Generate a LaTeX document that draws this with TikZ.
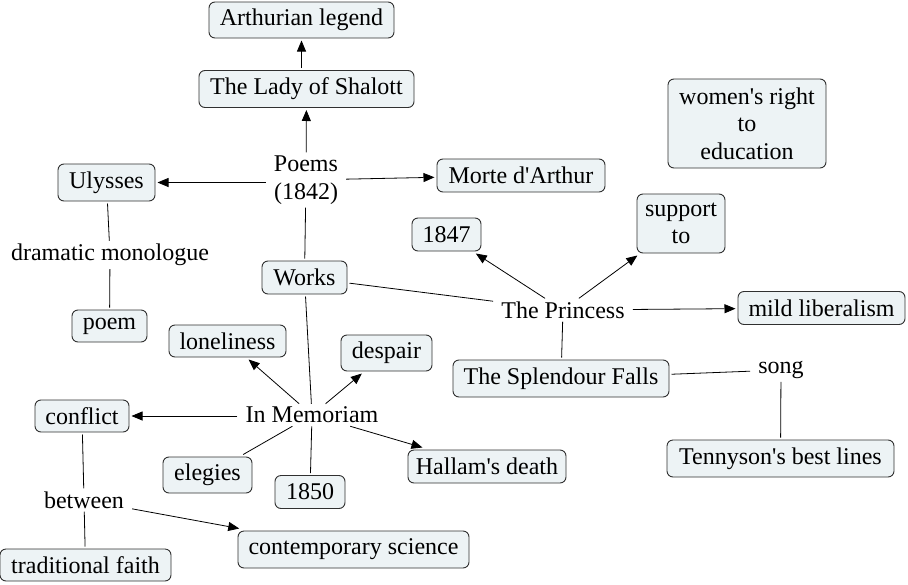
\documentclass[tikz,border=0pt]{standalone}
\usepackage{fontspec}
\setmainfont{Liberation Serif}
\usetikzlibrary{arrows.meta}
\definecolor{boxfill}{HTML}{EDF3F5}
\definecolor{boxline}{HTML}{303030}
\newcommand{\aps}{\textquotesingle}
\tikzset{
  cbox/.style={draw=boxline, line width=0.9pt, fill=boxfill, rounded corners=6pt,
    inner sep=0pt, outer sep=2.5pt, align=center, font=\fontsize{24}{27.5}\selectfont},
  lbl/.style={inner xsep=8pt, inner ysep=3pt, align=center, font=\fontsize{24}{28}\selectfont},
  link/.style={draw=black, line width=0.8pt},
  arr/.style={link, -{Triangle[length=11pt,width=9pt]}},
}
\begin{document}
\begin{tikzpicture}[x=1pt,y=-1pt]
\useasboundingbox (0,0) rectangle (908,584);
% boxes
\node[cbox, minimum width=185pt, minimum height=36pt] (arth) at (301.5,20) {Arthurian legend};
\node[cbox, minimum width=215pt, minimum height=37pt] (lady) at (306.5,89) {The Lady of Shalott};
\node[cbox, minimum width=97pt, minimum height=37pt] (uly) at (106.5,182.5) {Ulysses};
\node[cbox, minimum width=168pt, minimum height=33pt] (morte) at (521,175.5) {Morte d\aps Arthur};
\node[cbox, minimum width=75pt, minimum height=32pt] (poem) at (109.5,326) {poem};
\node[cbox, minimum width=85pt, minimum height=33pt] (works) at (304.5,277.5) {Works};
\node[cbox, minimum width=69pt, minimum height=33pt] (y1847) at (446.5,234.5) {1847};
\node[cbox, minimum width=88pt, minimum height=59pt] (support) at (681,223.5) {support\\to};
\node[cbox, minimum width=167pt, minimum height=33pt] (mild) at (821.5,308) {mild liberalism};
\node[cbox, minimum width=216pt, minimum height=37pt] (splendour) at (561,378.5) {The Splendour Falls};
\node[cbox, minimum width=227pt, minimum height=37pt] (tenny) at (780.5,458.5) {Tennyson\aps s best lines};
\node[cbox, minimum width=117pt, minimum height=32pt] (lonely) at (227.5,341) {loneliness};
\node[cbox, minimum width=91pt, minimum height=36pt] (despair) at (386.5,353) {despair};
\node[cbox, minimum width=94pt, minimum height=32pt] (conflict) at (82,416) {conflict};
\node[cbox, minimum width=89pt, minimum height=36pt] (elegies) at (207.5,475) {elegies};
\node[cbox, minimum width=70pt, minimum height=33pt] (y1850) at (310,492) {1850};
\node[cbox, minimum width=158pt, minimum height=33pt] (hallam) at (487,466.5) {Hallam\aps s death};
\node[cbox, minimum width=171pt, minimum height=32pt] (faith) at (85.5,565) {traditional faith};
\node[cbox, minimum width=231pt, minimum height=37pt] (science) at (353.5,549.5) {contemporary science};
\node[cbox, minimum width=158pt, minimum height=89pt] (women) at (747,123.5) {women\aps s right\\to\\education};
% text labels
\node[lbl] (poems) at (306,180) {Poems\\(1842)};
\node[lbl] (dram) at (110,255) {dramatic monologue};
\node[lbl] (princess) at (563,310) {The Princess};
\node[lbl] (memo) at (312,415) {In Memoriam};
\node[lbl] (song) at (781,370) {song};
\node[lbl] (between) at (84,500) {between};
% connectors
\draw[arr] (arth.south |- lady.north) -- (arth.south);
\draw[arr] (poems) -- (lady);
\draw[arr] (poems.west |- uly.east) -- (uly.east);
\draw[arr] (poems) -- (morte);
\draw[link] (poems) -- (works);
\draw[link] (uly) -- (dram);
\draw[link] (dram) -- (poem);
\draw[link] (works) -- (princess);
\draw[link] (works) -- (memo);
\draw[arr] (princess) -- (y1847);
\draw[arr] (princess) -- (support);
\draw[arr] (princess) -- (mild);
\draw[link] (princess) -- (splendour);
\draw[link] (splendour) -- (song);
\draw[link] (song) -- (tenny);
\draw[arr] (memo) -- (lonely);
\draw[arr] (memo) -- (despair);
\draw[arr] (memo.west |- conflict.east) -- (conflict.east);
\draw[arr] (memo) -- (hallam);
\draw[link] (memo) -- (elegies);
\draw[link] (memo) -- (y1850);
\draw[link] (conflict) -- (between);
\draw[link] (between) -- (faith);
\draw[arr] (between) -- (science);
\end{tikzpicture}
\end{document}
